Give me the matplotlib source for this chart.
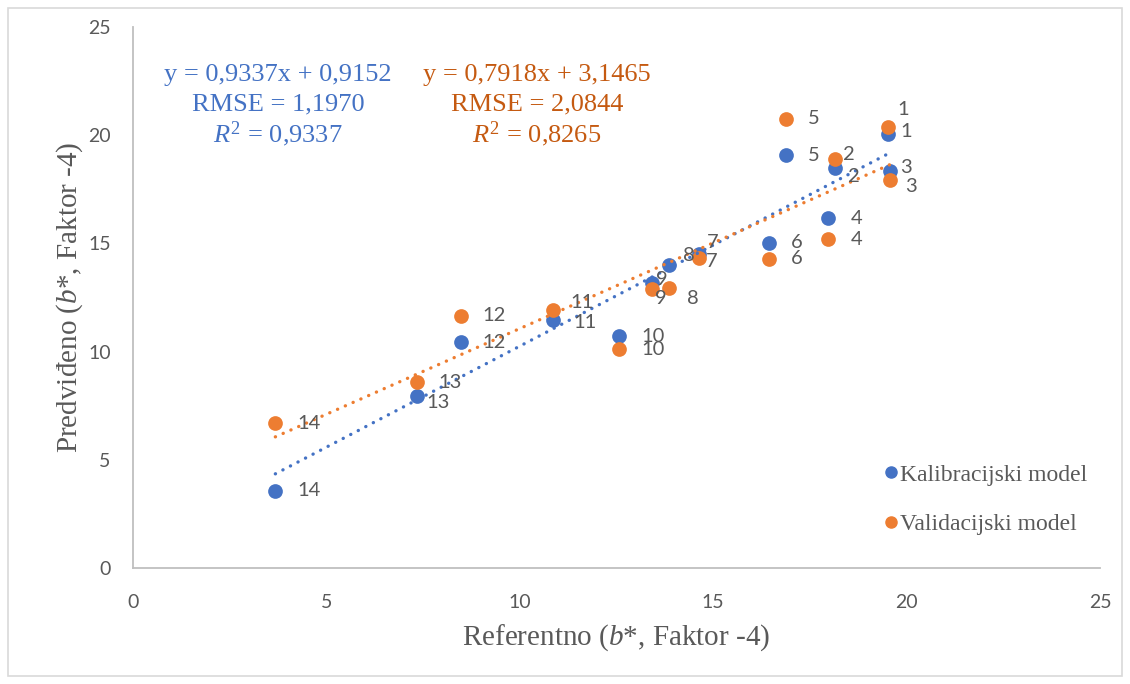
import matplotlib
matplotlib.use("Agg")
import matplotlib.pyplot as plt
import numpy as np
from matplotlib.patches import Rectangle
from matplotlib.lines import Line2D

# ---- data ----
point_ids = ["1", "2", "3", "4", "5", "6", "7", "8", "9", "10", "11", "12", "13", "14"]
ref_x = [19.51, 18.15, 19.57, 17.98, 16.89, 16.43, 14.63, 13.85, 13.43, 12.57, 10.85, 8.47, 7.33, 3.68]
cal_y = [20.06, 18.48, 18.35, 16.17, 19.08, 15.02, 14.52, 13.98, 13.15, 10.72, 11.46, 10.44, 7.95, 3.56]
val_y = [20.38, 18.90, 17.93, 15.20, 20.75, 14.28, 14.33, 12.94, 12.89, 10.12, 11.92, 11.65, 8.60, 6.70]
cal_fit = (0.9337, 0.9152)
val_fit = (0.7918, 3.1465)
cal_text = ["y = 0,9337x + 0,9152", "RMSE = 1,1970", "R2 = 0,9337"]
val_text = ["y = 0,7918x + 3,1465", "RMSE = 2,0844", "R2 = 0,8265"]
series_names = ["Kalibracijski model", "Validacijski model"]
x_ticks = [0, 5, 10, 15, 20, 25]
y_ticks = [0, 5, 10, 15, 20, 25]

BLUE = "#4472C4"
ORANGE = "#ED7D31"
ORANGE_TXT = "#C55A11"
GREY = "#595959"

plt.rcParams["mathtext.fontset"] = "custom"
plt.rcParams["mathtext.rm"] = "Liberation Serif"
plt.rcParams["mathtext.it"] = "Liberation Serif:italic"

fig = plt.figure(figsize=(11.3, 6.84), dpi=100)
fig.patches.append(Rectangle((0.007, 0.011), 0.986, 0.978, transform=fig.transFigure,
                             fill=False, edgecolor="#d9d9d9", linewidth=1.2))
ax = fig.add_axes([133/1130, 1-568/684, (1100-133)/1130, (568-27)/684])
ax.set_xlim(0, 25)
ax.set_ylim(0, 25)
ax.set_xticks(x_ticks)
ax.set_yticks(y_ticks)
ax.tick_params(length=0, labelsize=14, labelcolor=GREY)
ax.tick_params(axis="x", pad=19)
ax.tick_params(axis="y", pad=16)
for lab in ax.get_xticklabels() + ax.get_yticklabels():
    lab.set_family("Lato")
for s in ["top", "right"]:
    ax.spines[s].set_visible(False)
for s in ["left", "bottom"]:
    ax.spines[s].set_color("#bfbfbf")
    ax.spines[s].set_linewidth(1.3)

ax.scatter(ref_x, cal_y, s=112, color=BLUE, zorder=3, linewidths=0)
ax.scatter(ref_x, val_y, s=112, color=ORANGE, zorder=4, linewidths=0)

xr = np.array([min(ref_x), max(ref_x)])
ax.plot(xr, cal_fit[0]*xr + cal_fit[1], color=BLUE, lw=2.4, ls=(0, (0.05, 2.5)),
        dash_capstyle="round", zorder=5)
ax.plot(xr, val_fit[0]*xr + val_fit[1], color=ORANGE, lw=2.4, ls=(0, (0.05, 2.5)),
        dash_capstyle="round", zorder=5)

# label offsets in pixels (left edge of text relative to point)
default_off = (22, 0)
cal_off = {"1": (13, 2), "2": (13, -8), "3": (10, 3), "7": (8, 11), "8": (14, 10),
           "9": (4, 4), "11": (21, -2), "13": (10, -7)}
val_off = {"1": (10, 17), "2": (8, 5), "3": (15, -7), "7": (7, -4), "8": (18, -11),
           "9": (3, -9), "11": (18, 8), "13": (22, -1)}
for i, pid in enumerate(point_ids):
    for yv, offs in ((cal_y[i], cal_off), (val_y[i], val_off)):
        ax.annotate(pid, (ref_x[i], yv), xytext=offs.get(pid, default_off),
                    textcoords="offset pixels", ha="left", va="center",
                    fontsize=14.5, color=GREY, family="Lato", zorder=6)

def fmt(line):
    if line.startswith("R2"):
        return r"$\mathit{R}^{2}$" + line[2:]
    return line

for lines, cx, col in ((cal_text, 278, BLUE), (val_text, 537, ORANGE_TXT)):
    for k, line in enumerate(lines):
        fig.text(cx/1130, 1-(75+29.5*k)/684, fmt(line), ha="center", va="center",
                 fontsize=19, color=col, family="Liberation Serif")

ax.set_xlabel(r"Referentno ($\mathit{b}$*, Faktor -4)", fontsize=21, color=GREY,
              family="Liberation Serif", labelpad=8)
ax.set_ylabel(r"Predviđeno ($\mathit{b}$*, Faktor -4)", fontsize=21, color=GREY,
              family="Liberation Serif", labelpad=2)

handles = [Line2D([], [], ls="", marker="o", ms=8, color=BLUE),
           Line2D([], [], ls="", marker="o", ms=8, color=ORANGE)]
leg = ax.legend(handles, series_names, loc="upper left", bbox_to_anchor=(885/1130, 1-464/684),
                bbox_transform=fig.transFigure, frameon=False, handlelength=0.5,
                handletextpad=0.15, labelspacing=1.2, borderaxespad=0, borderpad=0,
                prop={"family": "Liberation Serif", "size": 17})
for t in leg.get_texts():
    t.set_color(GREY)

fig.savefig("out.png", dpi=100)
